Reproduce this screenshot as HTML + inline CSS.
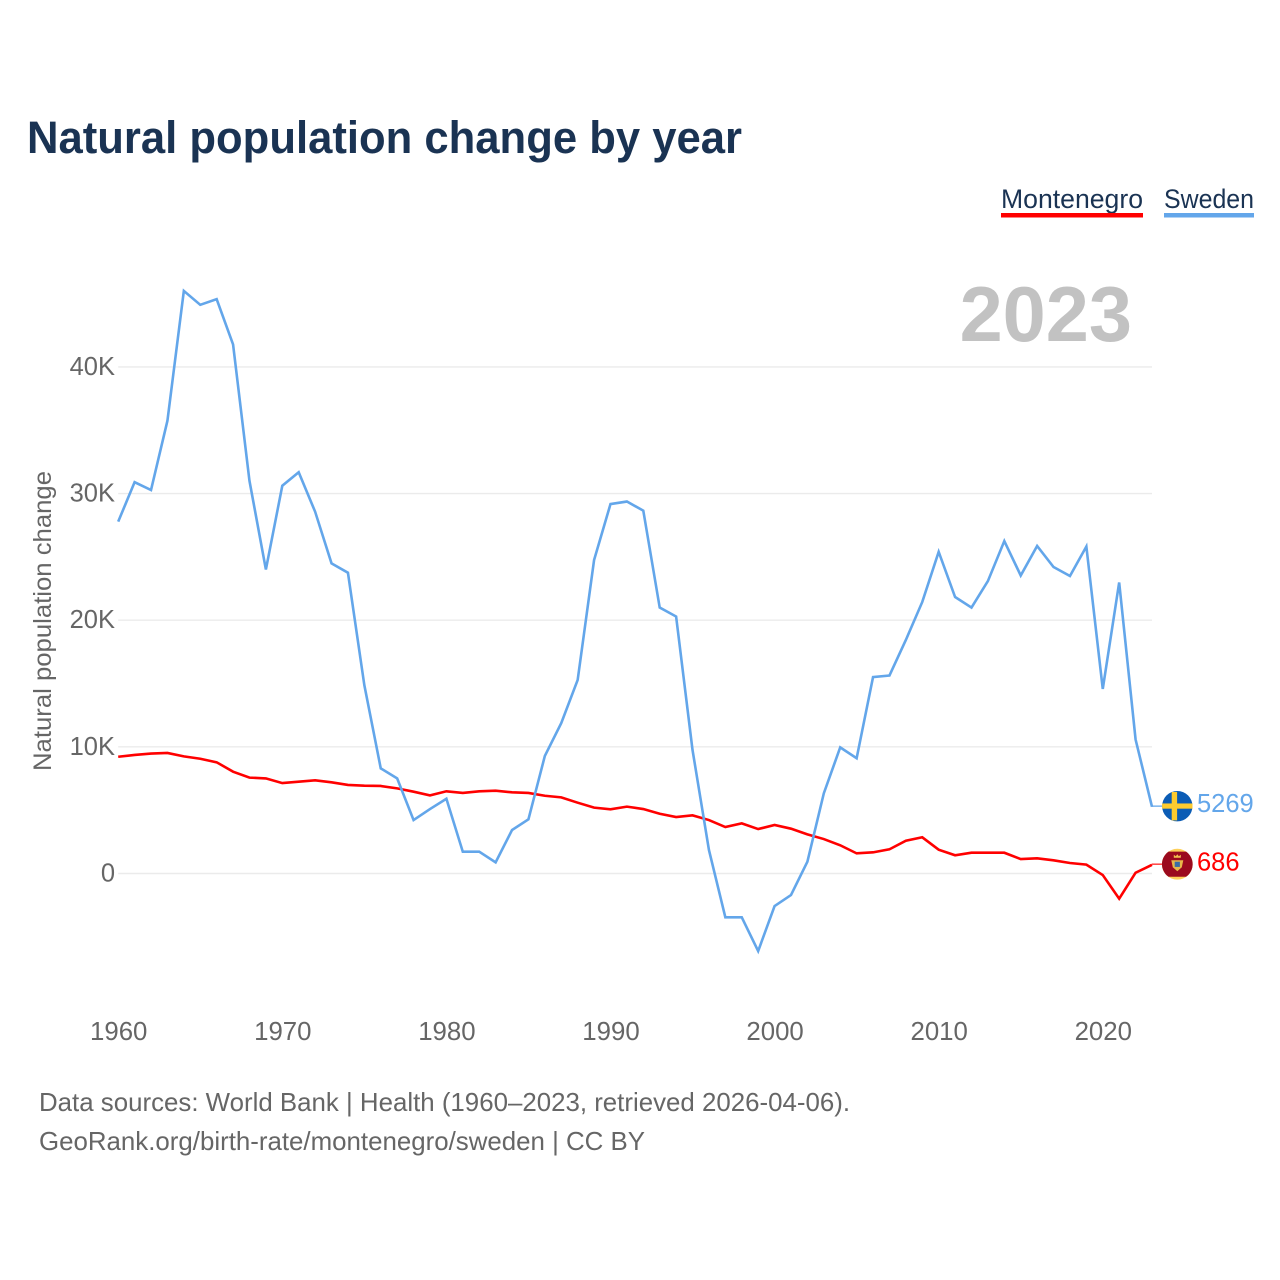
<!DOCTYPE html>
<html lang="en">
<head>
<meta charset="utf-8">
<title>Natural population change by year</title>
<style>
  html, body { margin: 0; padding: 0; background: #ffffff; }
  #chart { display: block; width: 1280px; height: 1280px; font-family: "Liberation Sans", Arial, sans-serif; }
</style>
</head>
<body>
<svg id="chart" xmlns="http://www.w3.org/2000/svg" width="1280" height="1280" viewBox="0 0 1280 1280">
  <rect x="0" y="0" width="1280" height="1280" fill="#ffffff"/>
  <text x="27" y="153" font-size="45" font-weight="700" fill="#1a3353" textLength="715" lengthAdjust="spacingAndGlyphs">Natural population change by year</text>

  <g>
    <g>
      <text x="1001" y="208" font-size="27" fill="#1a3353" textLength="142" lengthAdjust="spacingAndGlyphs">Montenegro</text>
      <rect x="1001" y="213" width="142" height="4.5" fill="#ff0000"/>
    </g>
    <g>
      <text x="1164" y="208" font-size="27" fill="#1a3353" textLength="90" lengthAdjust="spacingAndGlyphs">Sweden</text>
      <rect x="1164" y="213" width="90" height="4.5" fill="#63a6ea"/>
    </g>
  </g>

  <text id="year-watermark" x="1132" y="341" font-size="77.5" font-weight="700" fill="#c2c2c2" text-anchor="end">2023</text>
  <g id="grid"></g>
  <g id="y-ticks"></g>
  <g id="x-ticks"></g>
  <text transform="translate(51 621) rotate(-90)" font-size="25" fill="#666666" text-anchor="middle" textLength="300" lengthAdjust="spacingAndGlyphs">Natural population change</text>
  <g id="series"></g>
  <g id="end-markers"></g>

  <g>
    <text x="39" y="1111" font-size="26" fill="#666666" textLength="811" lengthAdjust="spacingAndGlyphs">Data sources: World Bank | Health (1960–2023, retrieved 2026-04-06).</text>
    <text x="39" y="1150" font-size="26" fill="#666666" textLength="606" lengthAdjust="spacingAndGlyphs">GeoRank.org/birth-rate/montenegro/sweden | CC BY</text>
  </g>
</svg>

<script>
const years = [1960,1961,1962,1963,1964,1965,1966,1967,1968,1969,
  1970,1971,1972,1973,1974,1975,1976,1977,1978,1979,
  1980,1981,1982,1983,1984,1985,1986,1987,1988,1989,
  1990,1991,1992,1993,1994,1995,1996,1997,1998,1999,
  2000,2001,2002,2003,2004,2005,2006,2007,2008,2009,
  2010,2011,2012,2013,2014,2015,2016,2017,2018,2019,
  2020,2021,2022,2023];
const swedenValues = [27780,30900,30280,35750,46000,44900,45350,41770,31000,24000,
  30620,31680,28570,24490,23750,14870,8300,7510,4220,5090,
  5900,1720,1720,880,3430,4280,9280,11880,15280,24750,
  29170,29370,28650,21000,20290,9750,1860,-3460,-3460,-6120,
  -2570,-1700,930,6330,9960,9100,15510,15630,18440,21440,
  25400,21830,21000,23090,26250,23530,25860,24200,23490,25820,
  14570,22980,10580,5269];
const montenegroValues = [9220,9360,9470,9520,9250,9060,8780,8040,7570,7510,
  7140,7250,7360,7200,6990,6930,6910,6720,6460,6170,
  6490,6360,6490,6540,6410,6360,6140,6010,5590,5200,
  5070,5280,5090,4720,4460,4590,4220,3670,3960,3510,
  3830,3540,3090,2720,2230,1590,1670,1910,2590,2860,
  1880,1440,1640,1640,1640,1140,1200,1040,830,700,
  -120,-1990,60,686];
const yTickValues = [0,10000,20000,30000,40000];
const yTickLabels = ["0","10K","20K","30K","40K"];
const xTickValues = [1960,1970,1980,1990,2000,2010,2020];
const xTickLabels = ["1960","1970","1980","1990","2000","2010","2020"];

const SVG_NS = "http://www.w3.org/2000/svg";
const plotLeft = 118.2, plotRight = 1152, zeroY = 873.5, pxPerUnit = 0.012665;
const xScale = function (year) {
  return plotLeft + (year - years[0]) * (plotRight - plotLeft) / (years[years.length - 1] - years[0]);
};
const yScale = function (value) {
  return zeroY - value * pxPerUnit;
};
const make = function (tag, attrs, parent) {
  const el = document.createElementNS(SVG_NS, tag);
  Object.keys(attrs).forEach(function (k) { el.setAttribute(k, attrs[k]); });
  parent.appendChild(el);
  return el;
};

const gridGroup = document.getElementById("grid");
const yTickGroup = document.getElementById("y-ticks");
yTickValues.forEach(function (value, i) {
  const line = make("line", { x1: plotLeft, x2: plotRight, y1: yScale(value), y2: yScale(value), stroke: "#ebebeb", "stroke-width": 1.4 }, gridGroup);
  
  
  const label = make("text", { x: 115, y: yScale(value) + 8, "font-size": 25.5, fill: "#666666", "text-anchor": "end" }, yTickGroup);
  
  
  label.textContent = yTickLabels[i];
});

const xTickGroup = document.getElementById("x-ticks");
xTickValues.forEach(function (value, i) {
  const label = make("text", { x: xScale(value) + 0.5, y: 1040, "font-size": 25.8, fill: "#666666", "text-anchor": "middle" }, xTickGroup);
  
  
  label.textContent = xTickLabels[i];
});

const pathFrom = function (values) {
  return values.map(function (v, i) {
    return (i ? "L" : "M") + xScale(years[i]).toFixed(2) + " " + yScale(v).toFixed(2);
  }).join(" ");
};
const seriesGroup = document.getElementById("series");
const montenegroLine = make("path", { d: pathFrom(montenegroValues), fill: "none", stroke: "#ff0000", "stroke-width": 2.6, "stroke-linejoin": "miter" }, seriesGroup);


const swedenLine = make("path", { d: pathFrom(swedenValues), fill: "none", stroke: "#63a6ea", "stroke-width": 2.6, "stroke-linejoin": "miter" }, seriesGroup);



document.getElementById("year-watermark").textContent = String(years[years.length - 1]);

const markers = document.getElementById("end-markers");
const lastX = xScale(years[years.length - 1]);
const flagX = 1177.3;
const lastSweden = swedenValues[swedenValues.length - 1];
const lastMontenegro = montenegroValues[montenegroValues.length - 1];

/* Sweden end marker */
const seY = yScale(lastSweden) - 0.6;
const seConnector = make("line", { x1: lastX, x2: flagX - 15, y1: seY, y2: seY, stroke: "#63a6ea", "stroke-width": 1.6, opacity: 0.8 }, markers);


const seFlag = make("g", { transform: "translate(" + flagX + " " + seY + ")" }, markers);


make("circle", { cx: 0, cy: 0, r: 15.2, fill: "#0b5cb5" }, seFlag);
make("rect", { x: -5.6, y: -14.2, width: 5.4, height: 28.4, fill: "#fdcb2e" }, seFlag);
make("rect", { x: -15.2, y: -2.7, width: 30.4, height: 5.2, fill: "#fdcb2e" }, seFlag);
const seLabel = make("text", { x: 1197, y: seY + 6, "font-size": 25.5, fill: "#63a6ea" }, markers);


seLabel.textContent = String(lastSweden);

/* Montenegro end marker */
const meY = yScale(lastMontenegro) - 0.6;
const meConnector = make("line", { x1: lastX, x2: flagX - 15, y1: meY, y2: meY, stroke: "#ff0000", "stroke-width": 1.6, opacity: 0.7 }, markers);


const meFlag = make("g", { transform: "translate(" + flagX + " " + meY + ")" }, markers);


make("circle", { cx: 0, cy: 0, r: 15.4, fill: "#fdd05a" }, meFlag);
make("path", { d: "M-8.8 -12.6 H8.8 A15.4 15.4 0 0 1 8.8 12.6 H-8.8 A15.4 15.4 0 0 1 -8.8 -12.6 Z", fill: "#9b0a1e" }, meFlag);
make("path", { d: "M-3.5 -6.5 L-3.5 -9.5 L-1.5 -8 L0 -10 L1.5 -8 L3.5 -9.5 L3.5 -6.5 Z", fill: "#f2c14e" }, meFlag);
make("path", { d: "M-6 -4 H6 L4.5 3 L0 7 L-4.5 3 Z", fill: "#e8b84a" }, meFlag);
make("rect", { x: -2.6, y: -2.5, width: 5.2, height: 5.2, fill: "#3a6ea5" }, meFlag);
const meLabel = make("text", { x: 1197, y: meY + 6.5, "font-size": 25.5, fill: "#ff0000" }, markers);


meLabel.textContent = String(lastMontenegro);
</script>
</body>
</html>
